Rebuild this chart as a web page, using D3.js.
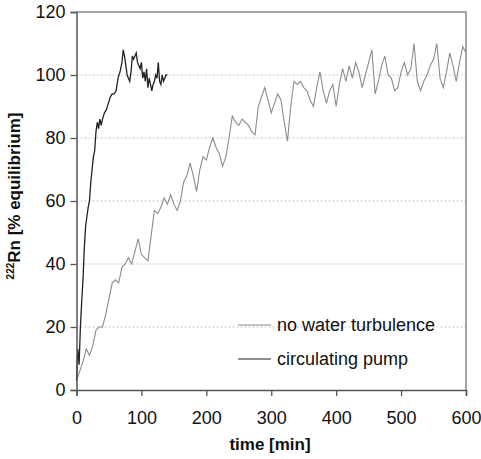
<!DOCTYPE html>
<html>
<head>
<meta charset="utf-8">
<script src="https://cdn.jsdelivr.net/npm/d3@7"></script>
<style>
  body { margin: 0; background: #fff; }
  svg { font-family: "Liberation Sans", Arial, sans-serif; }
</style>
</head>
<body>
<div id="chart"></div>
<script>
// no water turbulence, every 5 min
const grayTime = d3.range(0, 601, 5)
const grayVals = [3, 6, 9, 13, 11, 14, 19, 20, 20, 24, 29, 34, 35, 34, 39, 40, 42, 40, 44, 48,
  43, 42, 41, 49, 57, 56, 58, 61, 59, 62, 59, 57, 60, 66, 68, 72, 68, 63, 70, 74,
  73, 77, 80, 77, 75, 71, 74, 80, 87, 85, 84, 86, 85, 84, 82, 81, 90, 93, 96, 92,
  88, 91, 94, 92, 85, 79, 90, 98, 97, 98, 96, 95, 92, 90, 96, 101, 95, 91, 95, 97,
  90, 97, 102, 98, 103, 99, 104, 101, 96, 100, 104, 108, 94, 98, 103, 106, 100, 99, 95, 96,
  101, 104, 100, 102, 110, 98, 95, 98, 100, 103, 105, 110, 99, 96, 101, 107, 103, 98, 104, 109, 107]

// circulating pump
const blackTime = [0, 2, 4, 6, 8, 10, 12, 14, 16, 18, 20, 22, 24, 26, 28, 30, 32, 34, 36, 38, 40,
  43, 46, 49, 52, 55, 58, 61, 64, 67, 70, 72, 74, 76, 78, 80, 82, 84, 86, 88, 90, 92, 94, 96, 98,
  100, 102, 104, 106, 108, 110, 112, 114, 116, 118, 120, 122, 124, 126, 128, 130, 132, 134, 136, 138, 140]
const blackVals = [3, 13, 8, 20, 28, 35, 45, 52, 55, 58, 60, 66, 70, 74, 76, 82, 85, 83, 86, 84, 86,
  88, 89, 91, 93, 94, 94, 95, 99, 101, 104, 108, 106, 103, 100, 99, 98, 101, 106, 105, 106, 107, 104, 103, 102,
  104, 99, 101, 98, 102, 96, 99, 97, 95, 97, 98, 100, 99, 104, 98, 97, 100, 98, 99, 100, 100]

const xTicks = [0, 100, 200, 300, 400, 500, 600]
const yTicks = [0, 20, 40, 60, 80, 100, 120]
const gridVals = [20, 40, 60, 80, 100]
const legendNames = ['no water turbulence', 'circulating pump']

const W = 481, H = 459
const m = { left: 76.5, right: 15, top: 12, bottom: 69 }

const svg = d3.select('#chart').append('svg')
  .attr('width', W).attr('height', H)

const x = d3.scaleLinear().domain([0, 600]).range([m.left, W - m.right])
const y = d3.scaleLinear().domain([0, 120]).range([H - m.bottom, m.top])

// dotted grid
svg.append('g').selectAll('line').data(gridVals).join('line')
  .attr('x1', x(0)).attr('x2', x(600))
  .attr('y1', d => y(d)).attr('y2', d => y(d))
  .attr('stroke', '#c8c8c8').attr('stroke-width', 1)
  .attr('stroke-dasharray', '2,2')

// frame top/right
svg.append('path')
  .attr('d', `M${x(0)},${y(120)}H${x(600)}V${y(0)}`)
  .attr('fill', 'none').attr('stroke', '#888').attr('stroke-width', 1.5)

const line = d3.line().x(d => x(d[0])).y(d => y(d[1]))

svg.append('path')
  .datum(d3.zip(grayTime, grayVals))
  .attr('d', line)
  .attr('fill', 'none').attr('stroke', '#8c8c8c').attr('stroke-width', 1.1)

svg.append('path')
  .datum(d3.zip(blackTime, blackVals))
  .attr('d', line)
  .attr('fill', 'none').attr('stroke', '#222').attr('stroke-width', 1.3)

// axes
svg.append('g')
  .attr('transform', `translate(0,${y(0)})`)
  .call(d3.axisBottom(x).tickValues(xTicks).tickSize(6).tickPadding(15))
svg.append('g')
  .attr('transform', `translate(${x(0)},0)`)
  .call(d3.axisLeft(y).tickValues(yTicks).tickSize(6).tickPadding(5))

svg.selectAll('.domain').attr('stroke', '#555').attr('stroke-width', 1.5)
svg.selectAll('.tick line').attr('stroke', '#555').attr('stroke-width', 1.3)
svg.selectAll('.tick text').attr('font-size', '18px').attr('fill', '#111')
  .attr('font-family', '"Liberation Sans", Arial, sans-serif')

// axis titles
svg.append('text')
  .attr('x', 270).attr('y', 450)
  .attr('text-anchor', 'middle')
  .attr('font-weight', 'bold').attr('font-size', '17px').attr('fill', '#111')
  .text('time [min]')

const yl = svg.append('text')
  .attr('transform', 'translate(20,196) rotate(-90)')
  .attr('text-anchor', 'middle')
  .attr('font-weight', 'bold').attr('font-size', '17px').attr('fill', '#111')
yl.append('tspan').attr('font-size', '10px').attr('dy', '-6').text('222')
yl.append('tspan').attr('dy', '6').text('Rn [% equilibrium]')

// legend
const leg = svg.append('g')
const legColors = ['#8c8c8c', '#222']
legendNames.forEach((name, i) => {
  const ly = 325 + i * 34
  leg.append('line')
    .attr('x1', 238).attr('x2', 271).attr('y1', ly).attr('y2', ly)
    .attr('stroke', legColors[i]).attr('stroke-width', 1.2)
  leg.append('text')
    .attr('x', 277).attr('y', ly + 6)
    .attr('font-size', '18px').attr('fill', '#111')
    .text(name)
})
</script>
</body>
</html>
